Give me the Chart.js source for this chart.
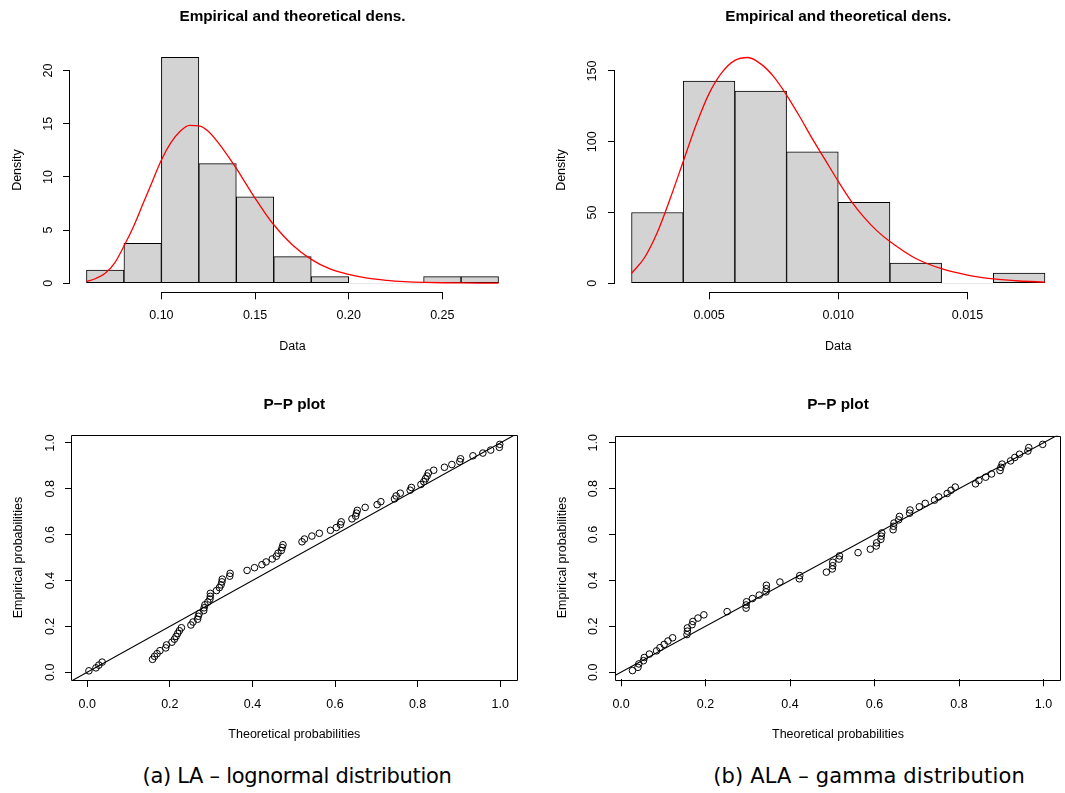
<!DOCTYPE html>
<html>
<head>
<meta charset="utf-8">
<script src="https://cdn.jsdelivr.net/npm/chart.js"></script>
<style>
body { margin:0; background:#fff; width:1065px; height:793px; position:relative; overflow:hidden; }
canvas { position:absolute; }
.cap { position:absolute; font-family:'DejaVu Sans', sans-serif; font-size:21px; color:#000; white-space:nowrap; transform:translateX(-50%); }
</style>
</head>
<body>
<canvas id="histA" width="532" height="370" style="left:0;top:0"></canvas>
<canvas id="histB" width="532" height="370" style="left:533px;top:0"></canvas>
<canvas id="ppA" width="532" height="380" style="left:0;top:380px"></canvas>
<canvas id="ppB" width="532" height="380" style="left:533px;top:380px"></canvas>
<div class="cap" style="left:297px;top:764px;letter-spacing:-0.3px">(a) LA – lognormal distribution</div>
<div class="cap" style="left:869px;top:764px;letter-spacing:0.15px">(b) ALA – gamma distribution</div>
<script>
// (a) LA - histogram, bins of 0.02
var edgesA = [0.06, 0.08, 0.10, 0.12, 0.14, 0.16, 0.18, 0.20, 0.22, 0.24, 0.26, 0.28];
var densA = [1.25, 3.75, 21.25, 11.25, 8.125, 2.5, 0.625, 0, 0, 0.625, 0.625];
// fitted lognormal density
var curveAx = [0.06, 0.065, 0.07, 0.075, 0.08, 0.085, 0.09, 0.095, 0.10, 0.105, 0.11, 0.115, 0.12, 0.125, 0.13, 0.135,
  0.14, 0.145, 0.15, 0.155, 0.16, 0.17, 0.18, 0.19, 0.20, 0.21, 0.22, 0.23, 0.24, 0.25, 0.26, 0.27, 0.28];
var curveAy = [0.17, 0.45, 0.95, 1.9, 3.5, 5.3, 7.4, 9.5, 11.6, 13.2, 14.3, 14.85, 14.8, 14.3, 13.3, 12.1,
  10.8, 9.4, 8.0, 6.7, 5.5, 3.6, 2.25, 1.35, 0.83, 0.48, 0.28, 0.16, 0.09, 0.05, 0.03, 0.015, 0.01];
var xTicksA = [0.10, 0.15, 0.20, 0.25];
var yTicksA = [0, 5, 10, 15, 20];

// (b) ALA - histogram, bins of 0.002
var edgesB = [0.002, 0.004, 0.006, 0.008, 0.010, 0.012, 0.014, 0.016, 0.018];
var densB = [50, 142.86, 135.71, 92.86, 57.14, 14.29, 0, 7.14];
// fitted gamma density
var curveBx = [0.002, 0.0025, 0.003, 0.0035, 0.004, 0.0045, 0.005, 0.0055, 0.006, 0.0065, 0.007, 0.0075, 0.008,
  0.0085, 0.009, 0.0095, 0.010, 0.0105, 0.011, 0.0115, 0.012, 0.013, 0.014, 0.015, 0.016, 0.017, 0.018];
var curveBy = [7, 18, 36, 60, 86, 112, 134, 149, 157.5, 159.5, 155, 146, 133,
  118, 102, 87, 72, 58, 46.5, 37, 29.5, 17.5, 10.3, 5.8, 3.1, 1.6, 0.85];
var xTicksB = [0.005, 0.010, 0.015];
var yTicksB = [0, 50, 100, 150];

// P-P plots
var ppTheoA = [0.004, 0.021, 0.028, 0.036, 0.158, 0.163, 0.169, 0.176, 0.190, 0.192,
  0.205, 0.211, 0.215, 0.219, 0.223, 0.228, 0.251, 0.256, 0.267, 0.269,
  0.271, 0.282, 0.283, 0.285, 0.292, 0.297, 0.298, 0.298, 0.313, 0.320,
  0.324, 0.326, 0.327, 0.345, 0.346, 0.387, 0.405, 0.423, 0.433, 0.448,
  0.458, 0.462, 0.470, 0.472, 0.474, 0.520, 0.526, 0.544, 0.562, 0.589,
  0.603, 0.613, 0.615, 0.641, 0.650, 0.652, 0.654, 0.673, 0.702, 0.711,
  0.744, 0.748, 0.758, 0.782, 0.785, 0.808, 0.815, 0.819, 0.823, 0.826,
  0.839, 0.865, 0.883, 0.902, 0.904, 0.934, 0.958, 0.977, 0.998, 0.999];
var ppEmpA = [0.006, 0.019, 0.031, 0.044, 0.056, 0.069, 0.081, 0.094, 0.106, 0.119,
  0.131, 0.144, 0.156, 0.169, 0.181, 0.194, 0.206, 0.219, 0.231, 0.244,
  0.256, 0.269, 0.281, 0.294, 0.306, 0.319, 0.331, 0.344, 0.356, 0.369,
  0.381, 0.394, 0.406, 0.419, 0.431, 0.444, 0.456, 0.469, 0.481, 0.494,
  0.506, 0.519, 0.531, 0.544, 0.556, 0.569, 0.581, 0.594, 0.606, 0.619,
  0.631, 0.644, 0.656, 0.669, 0.681, 0.694, 0.706, 0.719, 0.731, 0.744,
  0.756, 0.769, 0.781, 0.794, 0.806, 0.819, 0.831, 0.844, 0.856, 0.869,
  0.881, 0.894, 0.906, 0.919, 0.931, 0.944, 0.956, 0.969, 0.981, 0.994];
var ppTheoB = [0.027, 0.040, 0.042, 0.053, 0.055, 0.067, 0.084, 0.092, 0.102, 0.111,
  0.122, 0.156, 0.157, 0.157, 0.168, 0.170, 0.182, 0.196, 0.251, 0.296,
  0.296, 0.297, 0.311, 0.327, 0.343, 0.344, 0.344, 0.376, 0.422, 0.423,
  0.486, 0.500, 0.501, 0.501, 0.516, 0.517, 0.561, 0.590, 0.604, 0.605,
  0.615, 0.616, 0.617, 0.644, 0.645, 0.646, 0.657, 0.659, 0.683, 0.684,
  0.706, 0.720, 0.742, 0.752, 0.772, 0.781, 0.791, 0.839, 0.847, 0.863,
  0.877, 0.897, 0.899, 0.902, 0.922, 0.932, 0.943, 0.963, 0.965, 0.998];
var ppEmpB = [0.007, 0.021, 0.036, 0.050, 0.064, 0.079, 0.093, 0.107, 0.121, 0.136,
  0.150, 0.164, 0.179, 0.193, 0.207, 0.221, 0.236, 0.250, 0.264, 0.279,
  0.293, 0.307, 0.321, 0.336, 0.350, 0.364, 0.379, 0.393, 0.407, 0.421,
  0.436, 0.450, 0.464, 0.479, 0.493, 0.507, 0.521, 0.536, 0.550, 0.564,
  0.579, 0.593, 0.607, 0.621, 0.636, 0.650, 0.664, 0.679, 0.693, 0.707,
  0.721, 0.736, 0.750, 0.764, 0.779, 0.793, 0.807, 0.821, 0.836, 0.850,
  0.864, 0.879, 0.893, 0.907, 0.921, 0.936, 0.950, 0.964, 0.979, 0.993];
var ppTicks = [0, 0.2, 0.4, 0.6, 0.8, 1.0];
var diagLine = [-0.1, 1.1];

Chart.defaults.font.family = "'Liberation Sans', Arial, sans-serif";
Chart.defaults.font.size = 12.5;
Chart.defaults.color = '#000';
Chart.defaults.animation = false;
Chart.defaults.events = [];
Chart.defaults.plugins.legend.display = false;
Chart.defaults.plugins.tooltip.enabled = false;

// R style axis: line only from first to last tick, or a full box
var rAxis = {
  id: 'rAxis',
  afterDatasetsDraw: function(chart, args, o) {
    var ctx = chart.ctx, a = chart.chartArea, sx = chart.scales.x, sy = chart.scales.y;
    ctx.save();
    ctx.strokeStyle = '#000';
    ctx.lineWidth = 1;
    ctx.beginPath();
    if (o.box) {
      ctx.rect(Math.round(a.left) - 0.5, Math.round(a.top) + 0.5, Math.round(a.right - a.left) + 1, Math.round(a.bottom - a.top));
    } else {
      var by = Math.round(a.bottom) + 0.5, lx = Math.round(a.left) - 0.5;
      var xt = sx.ticks, yt = sy.ticks;
      ctx.moveTo(sx.getPixelForValue(xt[0].value), by);
      ctx.lineTo(sx.getPixelForValue(xt[xt.length - 1].value), by);
      ctx.moveTo(lx, sy.getPixelForValue(yt[0].value));
      ctx.lineTo(lx, sy.getPixelForValue(yt[yt.length - 1].value));
    }
    ctx.stroke();
    ctx.restore();
  }
};

function xAxis(min, max, ticks, dec, h, labelPad, titlePad, text) {
  return {
    type: 'linear', position: 'bottom', min: min, max: max, offset: false,
    afterBuildTicks: function(s) { s.ticks = ticks.map(function(v) { return {value: v}; }); },
    afterFit: function(s) { s.height = h; },
    grid: {offset: false, drawOnChartArea: false, drawTicks: true, tickLength: 7, color: '#000', lineWidth: 1},
    border: {display: false},
    ticks: {autoSkip: false, maxRotation: 0, padding: labelPad, callback: function(v) { return v.toFixed(dec); }},
    title: {display: true, text: text, padding: {top: 0, bottom: titlePad}}
  };
}

function yAxis(min, max, ticks, dec, w, labelPad, titlePad, text) {
  return {
    type: 'linear', position: 'left', min: min, max: max,
    afterBuildTicks: function(s) { s.ticks = ticks.map(function(v) { return {value: v}; }); },
    afterFit: function(s) { s.width = w; },
    grid: {offset: false, drawOnChartArea: false, drawTicks: true, tickLength: 7, color: '#000', lineWidth: 1},
    border: {display: false},
    ticks: {autoSkip: false, minRotation: 90, maxRotation: 90, crossAlign: 'center', padding: labelPad,
      callback: function(v) { return v.toFixed(dec); }},
    title: {display: true, text: text, padding: {top: titlePad, bottom: 0}}
  };
}

function titleOpts(text, top, bottom) {
  return {display: true, text: text, fullSize: false, font: {size: 15.3, weight: 'bold'}, padding: {top: top, bottom: bottom}};
}

function histChart(id, edges, dens, cx, cy, xs, ys, padRight) {
  var bars = dens.map(function(d, i) { return {x: (edges[i] + edges[i + 1]) / 2, y: d}; });
  var curve = cx.map(function(x, i) { return {x: x, y: cy[i]}; });
  new Chart(document.getElementById(id), {
    type: 'bar',
    data: {datasets: [
      {type: 'line', data: curve, borderColor: '#ff0000', borderWidth: 1.3, pointRadius: 0,
        cubicInterpolationMode: 'monotone', order: 0},
      {type: 'bar', data: bars, backgroundColor: '#d3d3d3', borderColor: '#000',
        borderWidth: function(c) { return c.raw && c.raw.y > 0 ? 1 : 0; },
        borderSkipped: false, barPercentage: 1, categoryPercentage: 1, order: 1}
    ]},
    options: {
      responsive: false, devicePixelRatio: 1,
      layout: {padding: {left: 0, top: 0, right: padRight, bottom: 0}},
      plugins: {title: titleOpts('Empirical and theoretical dens.', 7.8, 21.6), rAxis: {box: false}},
      scales: {x: xs, y: ys}
    },
    plugins: [rAxis]
  });
}

function ppChart(id, theo, emp, xs, ys, padRight, titleBottom) {
  var pts = theo.map(function(x, i) { return {x: x, y: emp[i]}; });
  var diag = diagLine.map(function(v) { return {x: v, y: v}; });
  new Chart(document.getElementById(id), {
    type: 'scatter',
    data: {datasets: [
      {data: pts, pointStyle: 'circle', pointRadius: 3.3, pointBorderWidth: 1,
        pointBorderColor: '#000', pointBackgroundColor: 'rgba(0,0,0,0)', order: 0},
      {data: diag, showLine: true, borderColor: '#000', borderWidth: 1.1, pointRadius: 0, order: 1}
    ]},
    options: {
      responsive: false, devicePixelRatio: 1,
      layout: {padding: {left: 0, top: 0, right: padRight, bottom: 0}},
      plugins: {title: titleOpts('P\u2212P plot', 15.8, titleBottom), rAxis: {box: true}},
      scales: {x: xs, y: ys}
    },
    plugins: [rAxis]
  });
}

histChart('histA', edgesA, densA, curveAx, curveAy,
  xAxis(0.0512, 0.2888, xTicksA, 2, 77.7, 9.2, 15.5, 'Data'),
  yAxis(-0.85, 22.15, yTicksA, 0, 70, 7.75, 9.7, 'Density'), 17);
histChart('histB', edgesB, densB, curveBx, curveBy,
  xAxis(0.00136, 0.01864, xTicksB, 3, 77.7, 9.2, 15.5, 'Data'),
  yAxis(-6.4, 166.4, yTicksB, 0, 82, 5.3, 21.2, 'Density'), 3.5);
ppChart('ppA', ppTheoA, ppEmpA,
  xAxis(-0.037, 1.04, ppTicks, 1, 80, 10.5, 17.5, 'Theoretical probabilities'),
  yAxis(-0.034, 1.035, ppTicks, 1, 72, 5.6, 10.8, 'Empirical probabilities'), 15.3, 20.8);
ppChart('ppB', ppTheoB, ppEmpB,
  xAxis(-0.012, 1.039, ppTicks, 1, 80.7, 11.2, 17.5, 'Theoretical probabilities'),
  yAxis(-0.031, 1.031, ppTicks, 1, 83, 7, 22.2, 'Empirical probabilities'), 1.7, 21.5);
</script>
</body>
</html>
